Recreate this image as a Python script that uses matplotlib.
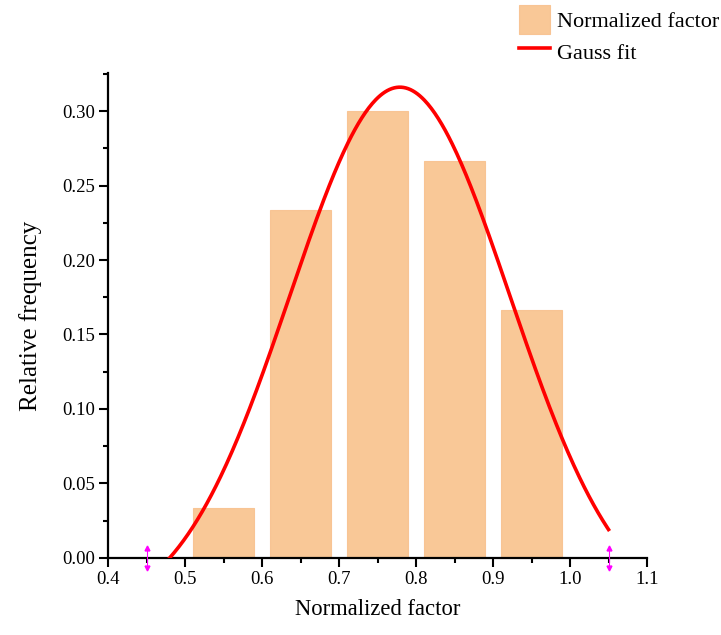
import numpy as np
import matplotlib
matplotlib.use("Agg")
import matplotlib.pyplot as plt
from matplotlib.ticker import MultipleLocator, FormatStrFormatter

plt.rcParams['font.family'] = ['Liberation Serif', 'DejaVu Serif']

# histogram bins (centres) and relative frequencies
bin_centers = [0.55, 0.65, 0.75, 0.85, 0.95]
rel_freq = [1/30, 7/30, 9/30, 8/30, 5/30]

# Gauss fit parameters: y = y0 + A*exp(-(x-xc)^2/(2*sigma^2))
fit_y0 = -0.04
fit_A = 0.356
fit_xc = 0.779
fit_sigma = 0.143
fit_range = [0.45, 1.05]

bar_color = '#F9C897'
fit_color = '#FF0000'

fig = plt.figure(figsize=(7.21, 6.35), dpi=100)
ax = fig.add_axes([0.1498, 0.1213, 0.7476, 0.7637])

bars = ax.bar(bin_centers, rel_freq, width=0.08, color=bar_color,
              edgecolor='#F8C494', linewidth=0.8, zorder=1)

xfit = np.linspace(fit_range[0], fit_range[1], 400)
yfit = fit_y0 + fit_A * np.exp(-(xfit - fit_xc) ** 2 / (2 * fit_sigma ** 2))
line, = ax.plot(xfit, yfit, color=fit_color, lw=2.6, zorder=3)

# data range markers on the x axis
for xr in fit_range:
    ax.plot([xr, xr], [-0.006, 0.006], color='#FF00FF', lw=0.8, clip_on=False, zorder=4)
    ax.plot([xr], [0.007], marker='^', ms=3.5, color='#FF00FF', clip_on=False, zorder=4)
    ax.plot([xr], [-0.007], marker='v', ms=3.5, color='#FF00FF', clip_on=False, zorder=4)

ax.set_xlim(0.4, 1.1)
ax.set_ylim(0, 0.3255)

ax.xaxis.set_major_locator(MultipleLocator(0.1))
ax.xaxis.set_minor_locator(MultipleLocator(0.05))
ax.yaxis.set_major_locator(MultipleLocator(0.05))
ax.yaxis.set_minor_locator(MultipleLocator(0.025))
ax.xaxis.set_major_formatter(FormatStrFormatter('%.1f'))
ax.yaxis.set_major_formatter(FormatStrFormatter('%.2f'))

for side in ['top', 'right']:
    ax.spines[side].set_visible(False)
for side in ['left', 'bottom']:
    ax.spines[side].set_linewidth(1.6)

ax.tick_params(which='major', direction='out', length=6.5, width=1.5, labelsize=13.5, pad=3)
ax.tick_params(which='minor', direction='out', length=3.5, width=1.5)

ax.set_xlabel('Normalized factor', fontsize=16.3, labelpad=8)
ax.set_ylabel('Relative frequency', fontsize=18, labelpad=14)

ax.legend([bars, line], ['Normalized factor', 'Gauss fit'], loc='upper right',
          bbox_to_anchor=(1.0, 0.995), bbox_transform=fig.transFigure,
          frameon=False, fontsize=16, handlelength=1.4, handleheight=1.6,
          handletextpad=0.3, labelspacing=0.15, borderaxespad=0.0, borderpad=0.1)

fig.savefig('out.png', dpi=100)
